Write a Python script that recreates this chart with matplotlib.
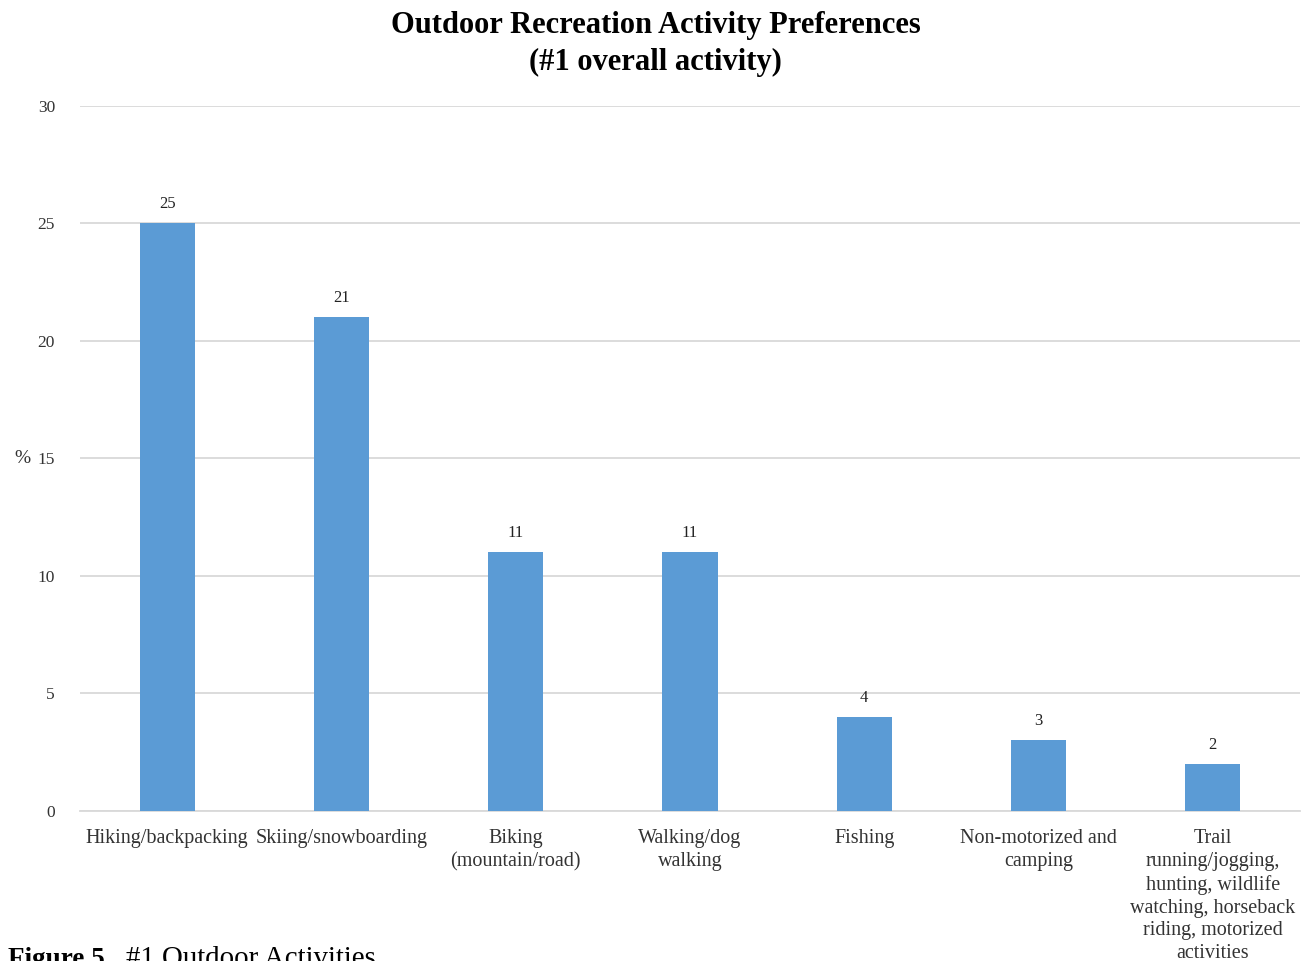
import matplotlib
matplotlib.use("Agg")
import matplotlib.pyplot as plt

categories = [
    "Hiking/backpacking",
    "Skiing/snowboarding",
    "Biking\n(mountain/road)",
    "Walking/dog\nwalking",
    "Fishing",
    "Non-motorized and\ncamping",
    "Trail\nrunning/jogging,\nhunting, wildlife\nwatching, horseback\nriding, motorized\nactivities",
]
percent = [25, 21, 11, 11, 4, 3, 2]
y_ticks = [0, 5, 10, 15, 20, 25, 30]

plt.rcParams["font.family"] = ["Liberation Serif", "DejaVu Serif"]

fig = plt.figure(figsize=(13.03, 9.61), dpi=100)
ax = fig.add_axes([0.0614, 0.1561, 0.9363, 0.7336])

x = list(range(len(categories)))
ax.bar(x, percent, width=0.316, color="#5B9BD5", zorder=3)
for xi, v in zip(x, percent):
    ax.annotate(f"{v}", (xi, v), xytext=(0, 8), textcoords="offset points",
                ha="center", va="bottom", fontsize=12, color="#222222")

ax.set_xlim(-0.5, len(categories) - 0.5)
ax.set_ylim(0, 30)
ax.set_yticks(y_ticks)
ax.set_yticklabels([str(t) for t in y_ticks], fontsize=12.5, color="#333333")
ax.set_xticks(x)
ax.set_xticklabels(categories, fontsize=14.5, color="#333333", linespacing=1.27)
ax.tick_params(axis="both", length=0)
ax.tick_params(axis="x", pad=13)
ax.tick_params(axis="y", pad=18)

ax.grid(axis="y", color="#d9d9d9", linewidth=1.3, zorder=0)
for side in ["top", "right", "left"]:
    ax.spines[side].set_visible(False)
ax.spines["bottom"].set_color("#d9d9d9")
ax.spines["bottom"].set_linewidth(1.3)

fig.text(22 / 1303, 1 - 459 / 961, "%", ha="center", va="center",
         fontsize=14, color="#333333")

fig.text(0.503, 1 - 25 / 961, "Outdoor Recreation Activity Preferences",
         ha="center", va="center", fontsize=22, fontweight="bold")
fig.text(0.503, 1 - 62 / 961, "(#1 overall activity)",
         ha="center", va="center", fontsize=22, fontweight="bold")

# Caption below the chart, partly running off the bottom edge
cap_y = -0.005
cap = fig.text(0.006, cap_y, "Figure 5.", ha="left", va="baseline",
               fontsize=19.5, fontweight="bold")
fig.canvas.draw()
bb = cap.get_window_extent().transformed(fig.transFigure.inverted())
fig.text(bb.x1 + 0.0115, cap_y, "#1 Outdoor Activities", ha="left",
         va="baseline", fontsize=20.8)

fig.savefig("out.png", dpi=100)
